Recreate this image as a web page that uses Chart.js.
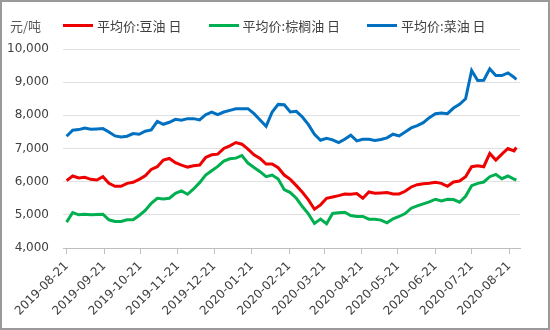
<!DOCTYPE html>
<html>
<head>
<meta charset="utf-8">
<script src="https://cdn.jsdelivr.net/npm/chart.js@4"></script>
<style>
  body { margin: 0; background: #fff; }
  #box { position: relative; width: 550px; height: 330px; }
  #box canvas { position: absolute; left: 0; top: 0; }
  #frame { position: absolute; left: 0; top: 0; width: 550px; height: 330px; box-sizing: border-box;
           border: 2px solid #9a9a9a; pointer-events: none; }
  #unit { position: absolute; left: 10px; top: 16px; font: 13px "Noto Sans CJK SC"; color: #595959; }
  #legenda { position: absolute; left: 63px; top: 16px; display: flex; align-items: center;
             font: 13px "Noto Sans CJK SC"; color: #404040; white-space: nowrap; }
  .item { display: flex; align-items: center; margin-right: 27px; }
  .linha { display: inline-block; width: 30px; height: 3px; margin-right: 4px; }
</style>
</head>
<body>
<div id="box">
  <canvas id="grafico" width="550" height="330"></canvas>
  <div id="unit">元/吨</div>
  <div id="legenda"></div>
  <div id="frame"></div>
</div>
<script>
// Datas das amostras (aprox. a cada 5 dias)
const datas = [
  '2019-08-21','2019-08-26','2019-08-31','2019-09-05','2019-09-10','2019-09-15','2019-09-20','2019-09-25','2019-09-30','2019-10-05',
  '2019-10-10','2019-10-15','2019-10-20','2019-10-25','2019-10-30','2019-11-04','2019-11-09','2019-11-14','2019-11-19','2019-11-24',
  '2019-11-29','2019-12-04','2019-12-09','2019-12-14','2019-12-19','2019-12-24','2019-12-29','2020-01-03','2020-01-08','2020-01-13',
  '2020-01-18','2020-01-23','2020-01-28','2020-02-02','2020-02-07','2020-02-12','2020-02-17','2020-02-22','2020-02-27','2020-03-03',
  '2020-03-08','2020-03-13','2020-03-18','2020-03-23','2020-03-28','2020-04-02','2020-04-07','2020-04-12','2020-04-17','2020-04-22',
  '2020-04-27','2020-05-02','2020-05-07','2020-05-12','2020-05-17','2020-05-22','2020-05-27','2020-06-01','2020-06-06','2020-06-11',
  '2020-06-16','2020-06-21','2020-06-26','2020-07-01','2020-07-06','2020-07-11','2020-07-16','2020-07-21','2020-07-26','2020-07-31',
  '2020-08-05','2020-08-10','2020-08-15','2020-08-20','2020-08-25','2020-08-27'
];

// 平均价:豆油 日
const douyou = [
  6030,6170,6110,6130,6070,6050,6150,5950,5860,5860,
  5950,5980,6070,6180,6370,6450,6650,6700,6570,6500,
  6440,6480,6500,6730,6810,6830,7000,7080,7180,7130,
  6980,6810,6700,6530,6530,6420,6200,6070,5880,5680,
  5450,5170,5300,5500,5540,5580,5630,5620,5640,5500,
  5690,5650,5660,5670,5630,5630,5710,5840,5910,5940,
  5950,5980,5950,5860,5990,6020,6150,6450,6480,6450,
  6850,6650,6830,7000,6930,7030
];

// 平均价:棕榈油 日
const zonglv = [
  4780,5070,5000,5020,5000,5010,5020,4850,4800,4800,
  4850,4850,4980,5130,5350,5500,5480,5500,5650,5720,
  5620,5780,5970,6200,6330,6460,6620,6690,6710,6790,
  6560,6430,6300,6150,6200,6080,5760,5670,5500,5250,
  5030,4740,4870,4730,5040,5060,5080,4980,4950,4950,
  4870,4870,4840,4760,4880,4950,5040,5200,5270,5330,
  5390,5470,5420,5470,5460,5380,5560,5880,5950,5990,
  6150,6220,6090,6170,6080,6050
];

// 平均价:菜油 日
const caiyou = [
  7370,7550,7570,7620,7580,7590,7600,7500,7380,7350,
  7370,7450,7430,7520,7560,7820,7730,7790,7880,7850,
  7900,7900,7860,8020,8100,8020,8100,8150,8200,8200,
  8200,8050,7860,7670,8100,8330,8320,8100,8120,7950,
  7720,7430,7250,7310,7260,7180,7280,7400,7230,7280,
  7280,7240,7270,7320,7430,7380,7500,7620,7690,7780,
  7930,8050,8070,8050,8220,8330,8500,9350,9050,9060,
  9400,9200,9200,9280,9150,9080
];

const nomes = ['平均价:豆油 日', '平均价:棕榈油 日', '平均价:菜油 日'];
const cores = ['#ee0000', '#00b050', '#0070c0'];

// Rótulos do eixo X
const rotulosX = [
  '2019-08-21','2019-09-21','2019-10-21','2019-11-21','2019-12-21','2020-01-21','2020-02-21',
  '2020-03-21','2020-04-21','2020-05-21','2020-06-21','2020-07-21','2020-08-21'
];

// Converte 'AAAA-MM-DD' em dias desde a primeira data
const origem = Date.UTC(2019, 7, 21);
function dia(s) {
  const p = s.split('-').map(Number);
  return (Date.UTC(p[0], p[1] - 1, p[2]) - origem) / 86400000;
}

const series = [douyou, zonglv, caiyou];
const datasets = series.map((valores, i) => ({
  label: nomes[i],
  data: datas.map((d, j) => ({ x: dia(d), y: valores[j] })),
  borderColor: cores[i],
  backgroundColor: cores[i],
  borderWidth: 3,
  pointRadius: 0,
  tension: 0,
  fill: false
}));

const fonteEixo = { family: 'DejaVu Sans', size: 12 };

new Chart(document.getElementById('grafico').getContext('2d'), {
  type: 'line',
  data: { datasets: datasets },
  options: {
    responsive: false,
    animation: false,
    layout: { padding: { left: 0, top: 49, right: 30, bottom: 0 } },
    plugins: { legend: { display: false }, tooltip: { enabled: false } },
    scales: {
      x: {
        type: 'linear',
        min: -3,
        max: 375,
        afterFit: s => { s.height = 82; },
        afterBuildTicks: s => { s.ticks = rotulosX.map(r => ({ value: dia(r) })); },
        ticks: {
          autoSkip: false,
          minRotation: 45,
          maxRotation: 45,
          padding: 5,
          color: '#404040',
          font: fonteEixo,
          callback: (v, i) => rotulosX[i]
        },
        grid: { drawOnChartArea: false, drawTicks: true, tickLength: 6, color: '#bfbfbf' },
        border: { display: true, color: '#bfbfbf', width: 1 }
      },
      y: {
        min: 4000,
        max: 10000,
        afterFit: s => { s.width = 63; },
        ticks: {
          stepSize: 1000,
          padding: 14,
          color: '#404040',
          font: fonteEixo,
          callback: v => v.toLocaleString('en-US')
        },
        grid: { color: '#e0e0e0', drawTicks: false },
        border: { display: false }
      }
    }
  }
});

// Legenda em HTML
const legenda = document.getElementById('legenda');
nomes.forEach((nome, i) => {
  const item = document.createElement('span');
  item.className = 'item';
  const linha = document.createElement('span');
  linha.className = 'linha';
  linha.style.background = cores[i];
  const texto = document.createElement('span');
  texto.textContent = nome;
  item.appendChild(linha);
  item.appendChild(texto);
  legenda.appendChild(item);
});
</script>
</body>
</html>
